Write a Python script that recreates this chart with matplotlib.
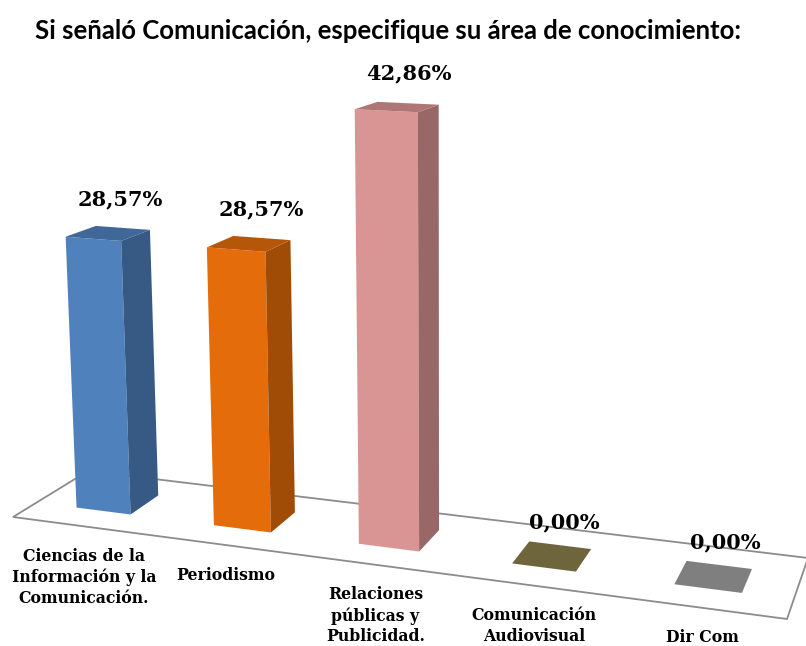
import matplotlib.pyplot as plt
import numpy as np
from matplotlib.patches import Polygon

# Data
categories = ['Ciencias de la\nInformación y la\nComunicación.', 'Periodismo',
              'Relaciones\npúblicas y\nPublicidad.', 'Comunicación\nAudiovisual', 'Dir Com']
values = [28.57, 28.57, 42.86, 0.00, 0.00]
colors = ['#4F81BD', '#E46C0A', '#D99594', '#6F653D', '#7F7F7F']
title = 'Si señaló Comunicación, especifique su área de conocimiento:'

# 3D view: floor corners in screen space (front-left, front-right, back-right, back-left)
floor = [(13, 517), (787, 619), (808, 558), (88, 471)]
vanish_up = np.array([446.0, 9700.0])   # vertical vanishing point
px_per_unit = 9.2                       # vertical scale near first bar


def homography(dst):
    src = [(0, 0), (1, 0), (1, 1), (0, 1)]
    A, b = [], []
    for (u, v), (x, y) in zip(src, dst):
        A.append([u, v, 1, 0, 0, 0, -u * x, -v * x]); b.append(x)
        A.append([0, 0, 0, u, v, 1, -u * y, -v * y]); b.append(y)
    h = np.linalg.solve(np.array(A, float), np.array(b, float))
    return np.append(h, 1).reshape(3, 3)


H = homography(floor)
w_ref = (H @ [0.06, 0.31, 1])[2]
s = px_per_unit * w_ref / (vanish_up[1] - 508)
col_up = -s * np.array([vanish_up[0], vanish_up[1], 1.0])


def project(u, v, z=0.0):
    p = H @ [u, v, 1] + z * col_up
    return p[0] / p[2], p[1] / p[2]


def shade(c, f):
    r, g, b = plt.matplotlib.colors.to_rgb(c)
    return (r * f, g * f, b * f)


fig = plt.figure(figsize=(8.06, 6.46), dpi=100)
ax = fig.add_axes([0, 0, 1, 1])
ax.set_xlim(0, 806)
ax.set_ylim(646, 0)
ax.axis('off')

ax.add_patch(Polygon(floor, closed=True, facecolor='white', edgecolor='#8C8C8C', lw=1.3))

n = len(values)
half_w = 0.5 / n * 0.4
v0, v1 = 0.30, 0.70
for i, val in enumerate(values):
    uc = (i + 0.5) / n
    u0, u1 = uc - half_w, uc + half_w
    top = [project(u0, v0, val), project(u1, v0, val), project(u1, v1, val), project(u0, v1, val)]
    if val > 0:
        front = [project(u0, v0), project(u1, v0), top[1], top[0]]
        side = [project(u1, v0), project(u1, v1), top[2], top[1]]
        ax.add_patch(Polygon(front, closed=True, facecolor=colors[i], edgecolor='none'))
        ax.add_patch(Polygon(side, closed=True, facecolor=shade(colors[i], 0.7), edgecolor='none'))
        ax.add_patch(Polygon(top, closed=True, facecolor=shade(colors[i], 0.8), edgecolor='none'))
    else:
        ax.add_patch(Polygon(top, closed=True, facecolor=colors[i], edgecolor='none'))
    cx, cy = project(uc, 0.5, val)
    ax.text(cx + 12, cy - 34, f'{val:.2f}%'.replace('.', ','), ha='center', va='center',
            fontsize=15, fontweight='bold', family='DejaVu Serif')
    lx, ly = project(uc, 0.0)
    ax.text(lx + 3, ly + 22, categories[i], ha='center', va='top', fontsize=11.3,
            fontweight='bold', family='DejaVu Serif', linespacing=1.28)

fig.text(388 / 806, 1 - 31 / 646, title, ha='center', va='center', fontsize=18.5,
         fontweight='bold', family='Lato')

fig.savefig('out.png', dpi=100)
